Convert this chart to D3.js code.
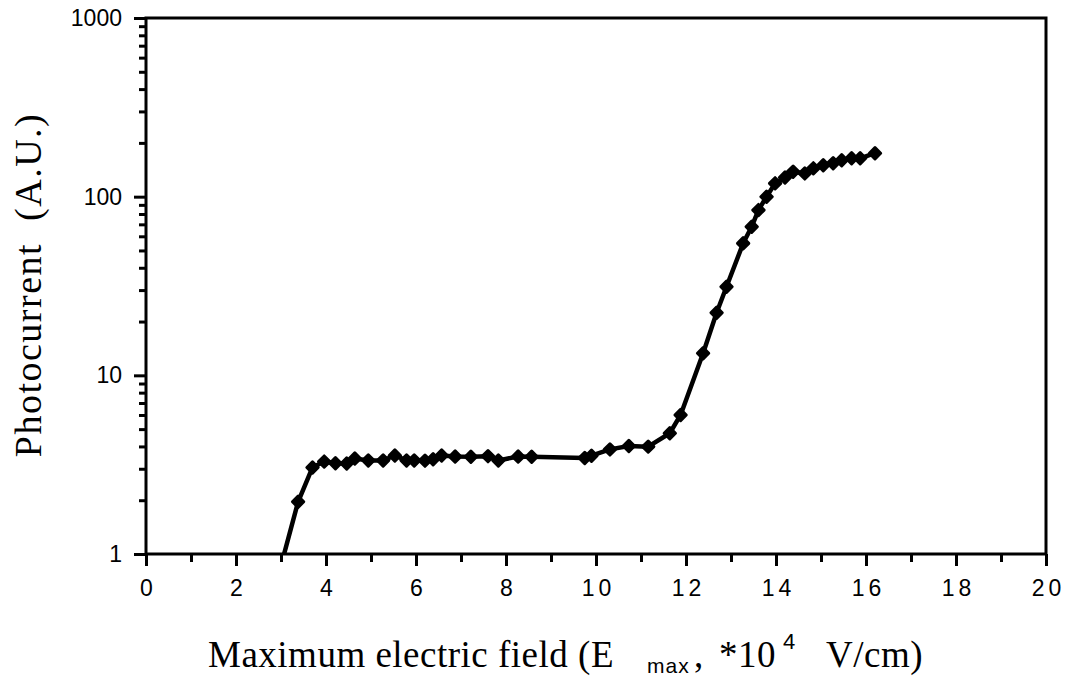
<!DOCTYPE html>
<html><head><meta charset="utf-8">
<script src="https://cdn.jsdelivr.net/npm/d3@7"></script>
<style>
body{margin:0;background:#fff;}
svg{display:block;}
</style></head>
<body><svg id="c" width="1074" height="679"></svg>
<script>
const fieldX = [3.02,3.38,3.70,3.96,4.21,4.46,4.64,4.94,5.27,5.53,5.79,5.96,6.20,6.38,6.57,6.87,7.22,7.60,7.83,8.27,8.57,9.75,9.90,10.31,10.73,11.16,11.64,11.88,12.38,12.68,12.90,13.27,13.46,13.61,13.79,13.98,14.20,14.38,14.64,14.83,15.05,15.27,15.46,15.68,15.87,16.20];
const current = [0.9,1.96,3.05,3.29,3.22,3.21,3.42,3.34,3.34,3.56,3.34,3.34,3.33,3.39,3.56,3.51,3.50,3.53,3.34,3.51,3.50,3.45,3.55,3.85,4.02,3.99,4.74,6.0,13.3,22.4,31.3,54.8,67.9,84.1,99.9,118.7,128,138,135,144,150,154,160,164,164,175];
const xTicks = [0,2,4,6,8,10,12,14,16,18,20];
const xMinor = [1,3,5,7,9,11,13,15,17,19];
const yTicks = [1,10,100,1000];

const svg = d3.select("#c");
const L=146, T=18, R=1046, B=554;
const x = d3.scaleLinear().domain([0,20]).range([L,R]);
const y = d3.scaleLog().domain([1,1000]).range([B,T]);
const data = fieldX.map((v,i)=>({x:v,y:current[i]}));

svg.append("defs").append("clipPath").attr("id","clip")
  .append("rect").attr("x",L).attr("y",T).attr("width",R-L).attr("height",B-T);

const g = svg.append("g").attr("clip-path","url(#clip)");
g.append("path").datum(data)
  .attr("d", d3.line().x(d=>x(d.x)).y(d=>y(d.y)))
  .attr("fill","none").attr("stroke","#000").attr("stroke-width",4.5).attr("stroke-linejoin","round");
g.selectAll("path.m").data(data).join("path").attr("class","m")
  .attr("transform",d=>`translate(${x(d.x)},${y(d.y)}) rotate(45)`)
  .attr("d", d3.symbol(d3.symbolSquare, 64))
  .attr("fill","#000").attr("stroke","#000").attr("stroke-width",3).attr("stroke-linejoin","round");

const sans = "Liberation Sans, Arial, sans-serif";
const serif = "Liberation Serif, Times New Roman, serif";

// x axis
const xa = svg.append("g").attr("transform",`translate(0,${B})`)
  .call(d3.axisBottom(x).tickValues(xTicks).tickSize(12).tickSizeOuter(0).tickPadding(14));
xa.select(".domain").remove();
xa.selectAll(".tick line").attr("stroke-width",3);
xa.selectAll(".tick text").attr("font-family",sans).attr("font-size",23).attr("letter-spacing",4).attr("dx",2).attr("fill","#000");
const xm = svg.append("g").attr("transform",`translate(0,${B})`)
  .call(d3.axisBottom(x).tickValues(xMinor).tickSize(8).tickFormat(""));
xm.select(".domain").remove();
xm.selectAll(".tick line").attr("stroke-width",3);

// y axis
const ya = svg.append("g").attr("transform",`translate(${L},0)`)
  .call(d3.axisLeft(y).tickValues(yTicks).tickFormat(d3.format("d")).tickSize(12).tickPadding(12));
ya.select(".domain").remove();
ya.selectAll(".tick line").attr("stroke-width",3);
ya.selectAll(".tick text").attr("font-family",sans).attr("font-size",23).attr("fill","#000");
const yMinorVals = [];
[1,10,100].forEach(b=>{for(let k=2;k<=9;k++) yMinorVals.push(b*k);});
const ym = svg.append("g").attr("transform",`translate(${L},0)`)
  .call(d3.axisLeft(y).tickValues(yMinorVals).tickSize(7).tickFormat(""));
ym.select(".domain").remove();
ym.selectAll(".tick line").attr("stroke-width",3);

// frame
svg.append("rect").attr("x",L).attr("y",T).attr("width",R-L).attr("height",B-T)
  .attr("fill","none").attr("stroke","#000").attr("stroke-width",3);

// titles
svg.append("text").attr("transform","translate(41,285) rotate(-90)")
  .attr("text-anchor","middle").attr("font-family",serif)
  .attr("font-size",38).attr("letter-spacing",1.5).style("white-space","pre")
  .text("Photocurrent  (A.U.)");

const xt = svg.append("text").attr("x",208).attr("y",667)
  .attr("font-family",serif).attr("font-size",37).attr("letter-spacing",0.5)
  .style("white-space","pre");
xt.append("tspan").text("Maximum electric field (E");
xt.append("tspan").attr("x",647).attr("y",673).attr("font-family",sans).attr("font-size",21).attr("letter-spacing",1).text("max");
xt.append("tspan").attr("x",694).attr("y",667).text(",");
xt.append("tspan").attr("x",719).attr("y",667).text("*10");
xt.append("tspan").attr("x",783).attr("y",649).attr("font-family",sans).attr("font-size",22).text("4");
xt.append("tspan").attr("x",826).attr("y",667).text("V/cm)");
</script></body></html>
